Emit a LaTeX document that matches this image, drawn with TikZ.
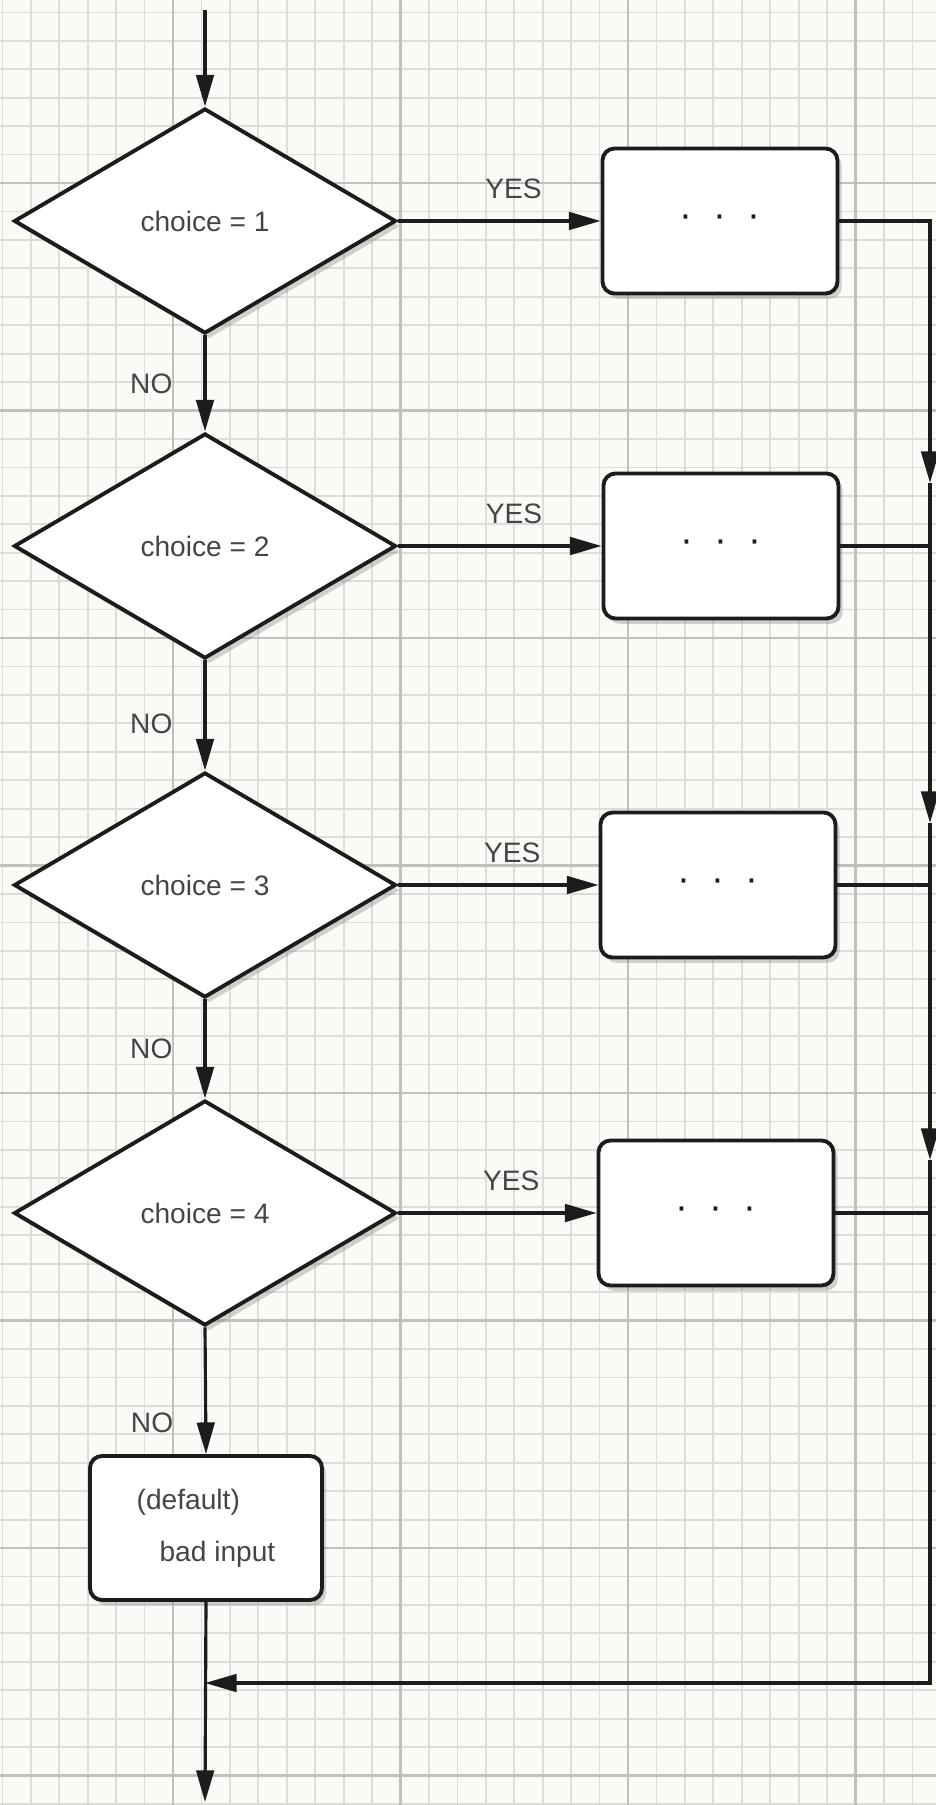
\documentclass[tikz,border=0pt]{standalone}
\usepackage{fontspec}
\setmainfont{Liberation Sans}
\usetikzlibrary{shapes.geometric, arrows.meta, shadows}

\definecolor{paper}{HTML}{FAFAF6}
\definecolor{gridminor}{HTML}{DCDCD8}
\definecolor{gridmajor}{HTML}{C0C0BC}
\definecolor{ink}{HTML}{1C1C1C}
\definecolor{labelgray}{HTML}{454545}

\begin{document}
\begin{tikzpicture}[
    flow/.style={line width=0.9pt, ink, -{Triangle[length=9pt, width=5pt]}},
    plain/.style={line width=0.9pt, ink},
    tag/.style={text=labelgray, font=\fontsize{8}{10}\selectfont},
    choice/.style={diamond, draw=ink, line width=1.1pt, fill=white, aspect=1.7,
                   minimum width=3.82cm, minimum height=2.25cm, inner sep=0pt, tag,
                   drop shadow={shadow xshift=1.2pt, shadow yshift=-1.5pt, opacity=0.35}},
    action/.style={rectangle, rounded corners=0.12cm, draw=ink, line width=1.1pt, fill=white,
                   minimum width=2.35cm, minimum height=1.45cm, tag,
                   drop shadow={shadow xshift=1.2pt, shadow yshift=-1.5pt, opacity=0.35}},
    dots/.style={text=ink, font=\fontsize{11}{12}\selectfont}
  ]
    \useasboundingbox (0, 0) rectangle (9.36, -18.05);

    % Grid paper
    \fill [paper] (0, 0) rectangle (9.36, -18.05);
    \foreach \k in {0,...,32}
      \draw [gridminor, line width=0.5pt] ({0.024 + \k*0.284375}, 0) -- ++(0, -18.05);
    \foreach \k in {0,...,63}
      \draw [gridminor, line width=0.5pt] (0, {-0.124 - \k*0.284375}) -- ++(9.36, 0);
    \foreach \k in {0,...,3}
      \draw [gridmajor, line width=0.8pt] ({1.73 + \k*2.275}, 0) -- ++(0, -18.05);
    \foreach \k in {0,...,7}
      \draw [gridmajor, line width=0.8pt] (0, {-1.83 - \k*2.275}) -- ++(9.36, 0);

    % Choices
    \node [choice] (d1) at (2.05, -2.21) {choice = 1};
    \node [choice] (d2) at (2.05, -5.46) {choice = 2};
    \node [choice] (d3) at (2.05, -8.85) {choice = 3};
    \node [choice] (d4) at (2.05, -12.13) {choice = 4};

    % Case bodies
    \node [action, dots] (b1) at (7.20, -2.21) {·\hspace{0.55em}·\hspace{0.55em}·};
    \node [action, dots] (b2) at (7.21, -5.46) {·\hspace{0.55em}·\hspace{0.55em}·};
    \node [action, dots] (b3) at (7.18, -8.85) {·\hspace{0.55em}·\hspace{0.55em}·};
    \node [action, dots] (b4) at (7.16, -12.13) {·\hspace{0.55em}·\hspace{0.55em}·};

    % Default
    \node [action, minimum width=2.32cm, minimum height=1.44cm, align=left] (def)
          at (2.06, -15.28) {(default)\\[4.7pt]\hspace{6.5pt}bad input};

    % Ends and rail
    \coordinate (start) at (2.05, -0.10);
    \coordinate (stop) at (2.05, -18.02);
    \coordinate (a2) at (9.30, -4.83);
    \coordinate (a3) at (9.30, -8.23);
    \coordinate (a4) at (9.30, -11.60);
    \coordinate (join) at (9.30, -16.83);
    \coordinate (merge) at (2.05, -16.83);

    % Edges
    \draw [flow] (start) -- (d1.north);
    \draw [flow] (d1.south) -- (d2.north) node (no1) [tag, midway, left=5.5pt] {NO};
    \draw [flow] (d2.south) -- (d3.north) node (no2) [tag, pos=0.58, left=5.5pt] {NO};
    \draw [flow] (d3.south) -- (d4.north) node (no3) [tag, midway, left=5.5pt] {NO};
    \draw [flow] (d4.south) -- (def.north) node (no4) [tag, pos=0.75, left=5.5pt] {NO};

    \foreach \i in {1,...,4}
      \draw [flow] (d\i.east) -- (b\i.west) node (yes\i) [tag, pos=0.57, above=2.5pt] {YES};

    % Back to the end
    \foreach \i/\j in {1/2, 2/3, 3/4} {
      \draw [flow] (b\i.east) -| (a\j);
      \draw [plain] (a\j) |- (b\j.east);
    }
    \draw [flow] (b4.east) -| (join) -- (merge);
    \draw [flow] (def.south) -- (stop);
\end{tikzpicture}
\end{document}
